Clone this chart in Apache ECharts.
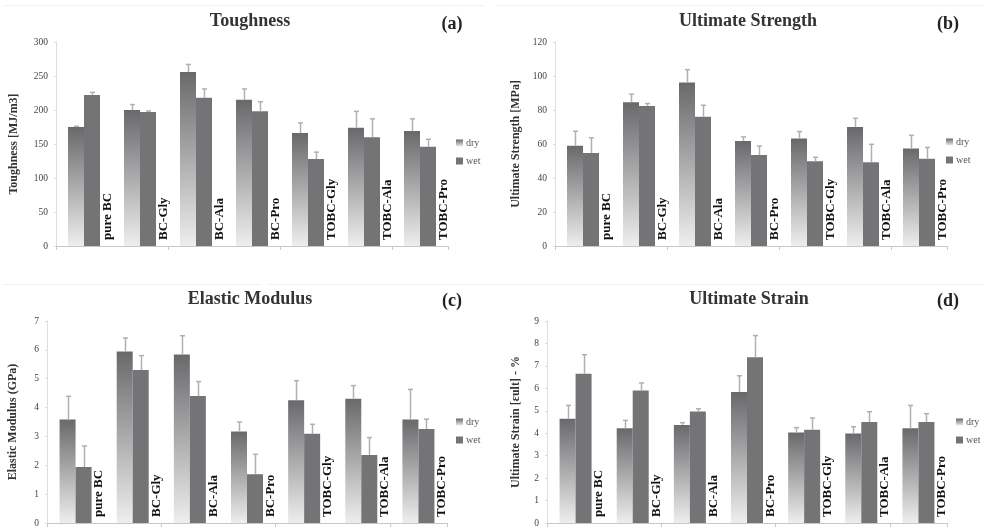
<!DOCTYPE html>
<html>
<head>
<meta charset="utf-8">
<title>Mechanical properties - dry / wet</title>
<script src="https://cdn.jsdelivr.net/npm/echarts@6/dist/echarts.min.js"></script>
<style>
html,body{margin:0;padding:0;background:#fff;}
#main{width:987px;height:528px;}
</style>
</head>
<body>
<div id="main"></div>
<script>
var categories = ['pure BC', 'BC-Gly', 'BC-Ala', 'BC-Pro', 'TOBC-Gly', 'TOBC-Ala', 'TOBC-Pro'];
var legendNames = ['dry', 'wet'];

// (a) Toughness [MJ/m3]
var toughDry = [175, 200, 256, 215, 166, 174, 169];
var toughDryErr = [1, 8, 11, 16, 15, 24, 18];
var toughWet = [222, 197, 218, 198, 128, 160, 146];
var toughWetErr = [4, 1.5, 13, 14, 10, 27, 11];

// (b) Ultimate Strength [MPa]
var strengthDry = [59, 84.6, 96.2, 61.8, 63.2, 70, 57.4];
var strengthDryErr = [8.5, 4.7, 7.5, 2.4, 4.1, 5.1, 7.7];
var strengthWet = [54.7, 82.4, 76.1, 53.5, 49.8, 49.2, 51.3];
var strengthWetErr = [9, 1.4, 6.7, 5.3, 2.4, 10.6, 6.7];

// (c) Elastic Modulus (GPa)
var modulusDry = [3.59, 5.94, 5.84, 3.17, 4.25, 4.31, 3.59];
var modulusDryErr = [0.8, 0.47, 0.65, 0.33, 0.68, 0.45, 1.04];
var modulusWet = [1.94, 5.3, 4.4, 1.69, 3.09, 2.36, 3.26];
var modulusWetErr = [0.73, 0.5, 0.5, 0.69, 0.33, 0.6, 0.34];

// (d) Ultimate Strain %
var strainDry = [4.65, 4.22, 4.37, 5.84, 4.03, 3.99, 4.22];
var strainDryErr = [0.59, 0.35, 0.1, 0.72, 0.22, 0.3, 1.02];
var strainWet = [6.65, 5.9, 4.97, 7.38, 4.16, 4.5, 4.5];
var strainWetErr = [0.85, 0.34, 0.12, 0.97, 0.52, 0.46, 0.37];

var serif = "'Liberation Serif', 'Times New Roman', serif";

// layout of the four panels
var panels = [
    {title: 'Toughness', tag: '(a)', yName: 'Toughness [MJ/m3]', max: 300, interval: 50,
     dry: toughDry, dryErr: toughDryErr, wet: toughWet, wetErr: toughWetErr,
     grid: {left: 56, top: 42, width: 392, height: 204}, titleX: 250, titleY: 12, tagX: 452, tagY: 15,
     nameGap: 36, legendX: 456, legendY: 137},
    {title: 'Ultimate Strength', tag: '(b)', yName: 'Ultimate Strength [MPa]', max: 120, interval: 20,
     dry: strengthDry, dryErr: strengthDryErr, wet: strengthWet, wetErr: strengthWetErr,
     grid: {left: 555, top: 42, width: 392, height: 204}, titleX: 748, titleY: 12, tagX: 948, tagY: 15,
     nameGap: 33, legendX: 946, legendY: 136},
    {title: 'Elastic Modulus', tag: '(c)', yName: 'Elastic Modulus (GPa)', max: 7, interval: 1,
     dry: modulusDry, dryErr: modulusDryErr, wet: modulusWet, wetErr: modulusWetErr,
     grid: {left: 47, top: 321, width: 400, height: 204}, titleX: 250, titleY: 290, tagX: 452, tagY: 292,
     nameGap: 28, legendX: 456, legendY: 416},
    {title: 'Ultimate Strain', tag: '(d)', yName: 'Ultimate Strain [\u03b5ult] - %', max: 9, interval: 1,
     dry: strainDry, dryErr: strainDryErr, wet: strainWet, wetErr: strainWetErr,
     grid: {left: 547, top: 321, width: 400, height: 204}, titleX: 749, titleY: 290, tagX: 948, tagY: 292,
     nameGap: 25, legendX: 956, legendY: 416}
];

var dryColor = new echarts.graphic.LinearGradient(0, 0, 0, 1, [
    {offset: 0, color: '#69696c'},
    {offset: 1, color: '#eeeeee'}
]);
var wetColor = '#747477';

// error bar, only the part above the bar is visible
function errorRender(shift) {
    return function (params, api) {
        var x = api.value(0), v = api.value(1), e = api.value(2);
        var p0 = api.coord([x, v]);
        var p1 = api.coord([x, v + e]);
        var cx = Math.round(p0[0] + shift) + 0.5;
        var st = {stroke: '#b0b0b0', lineWidth: 1.5};
        return {
            type: 'group',
            children: [
                {type: 'line', shape: {x1: cx, y1: p0[1], x2: cx, y2: p1[1]}, style: st},
                {type: 'line', shape: {x1: cx - 2.5, y1: p1[1], x2: cx + 2.5, y2: p1[1]}, style: st}
            ]
        };
    };
}

// vertical category names next to the wet bar
function labelRender(params, api) {
    var p = api.coord([api.value(0), 0]);
    return {
        type: 'text',
        x: p[0] + 17,
        y: p[1] - 6,
        rotation: Math.PI / 2,
        style: {
            text: categories[params.dataIndex],
            fill: '#111',
            fontFamily: serif,
            fontWeight: 'bold',
            fontSize: 13,
            align: 'left',
            verticalAlign: 'top',
            textAlign: 'left',
            textVerticalAlign: 'top'
        }
    };
}

function errData(vals, errs) {
    return vals.map(function (v, j) { return [j, v, errs[j]]; });
}

var option = {
    backgroundColor: '#fff',
    animation: false,
    title: [],
    legend: [],
    grid: [],
    xAxis: [],
    yAxis: [],
    series: [],
    graphic: [
        {type: 'line', shape: {x1: 3, y1: 5.5, x2: 484, y2: 5.5}, style: {stroke: '#f2f2f2', lineWidth: 1}},
        {type: 'line', shape: {x1: 496, y1: 5.5, x2: 984, y2: 5.5}, style: {stroke: '#f2f2f2', lineWidth: 1}},
        {type: 'line', shape: {x1: 3, y1: 284.5, x2: 262, y2: 284.5}, style: {stroke: '#f2f2f2', lineWidth: 1}},
        {type: 'line', shape: {x1: 268, y1: 284.5, x2: 984, y2: 284.5}, style: {stroke: '#f2f2f2', lineWidth: 1}}
    ]
};

panels.forEach(function (pn, i) {
    option.title.push({
        text: pn.title, left: pn.titleX, top: pn.titleY, textAlign: 'center', padding: 0,
        textStyle: {fontFamily: serif, fontWeight: 'bold', fontSize: 18, color: '#333'}
    });
    option.title.push({
        text: pn.tag, left: pn.tagX, top: pn.tagY, textAlign: 'center', padding: 0,
        textStyle: {fontFamily: serif, fontWeight: 'bold', fontSize: 18, color: '#222'}
    });
    option.legend.push({
        data: legendNames,
        orient: 'vertical',
        left: pn.legendX,
        top: pn.legendY,
        padding: 0,
        itemGap: 6,
        itemWidth: 7,
        itemHeight: 7,
        icon: 'rect',
        selectedMode: false,
        textStyle: {fontFamily: serif, fontSize: 10, color: '#555', lineHeight: 12, padding: [0, 0, 0, -2]}
    });
    option.grid.push(pn.grid);
    option.xAxis.push({
        type: 'category',
        gridIndex: i,
        data: categories,
        axisLine: {lineStyle: {color: '#c8c8c8'}},
        axisTick: {show: true, length: 4, lineStyle: {color: '#c8c8c8'}},
        axisLabel: {show: false},
        splitLine: {show: false}
    });
    option.yAxis.push({
        type: 'value',
        gridIndex: i,
        min: 0,
        max: pn.max,
        interval: pn.interval,
        name: pn.yName,
        nameLocation: 'middle',
        nameGap: pn.nameGap,
        nameTextStyle: {fontFamily: serif, fontWeight: 'bold', fontSize: 12, color: '#333'},
        axisLine: {show: true, lineStyle: {color: '#dedede'}},
        axisTick: {show: true, length: 2, lineStyle: {color: '#dedede'}},
        axisLabel: {fontFamily: serif, fontSize: 9.5, color: '#444', margin: 8},
        splitLine: {show: false}
    });
    option.series.push({
        name: 'dry', type: 'bar', xAxisIndex: i, yAxisIndex: i,
        data: pn.dry, barWidth: 16, barGap: '0%',
        itemStyle: {color: dryColor}, silent: true
    });
    option.series.push({
        name: 'wet', type: 'bar', xAxisIndex: i, yAxisIndex: i,
        data: pn.wet, barWidth: 16, barGap: '0%',
        itemStyle: {color: wetColor}, silent: true
    });
    option.series.push({
        name: 'dry error', type: 'custom', xAxisIndex: i, yAxisIndex: i,
        renderItem: errorRender(-8), data: errData(pn.dry, pn.dryErr),
        encode: {x: 0, y: 1}, z: 5, silent: true
    });
    option.series.push({
        name: 'wet error', type: 'custom', xAxisIndex: i, yAxisIndex: i,
        renderItem: errorRender(8), data: errData(pn.wet, pn.wetErr),
        encode: {x: 0, y: 1}, z: 5, silent: true
    });
    option.series.push({
        name: 'sample', type: 'custom', xAxisIndex: i, yAxisIndex: i,
        renderItem: labelRender,
        data: categories.map(function (c, j) { return [j, 0]; }),
        encode: {x: 0, y: 1}, z: 6, silent: true
    });
});

var myChart = echarts.init(document.getElementById('main'));
myChart.setOption(option);
</script>
</body>
</html>
